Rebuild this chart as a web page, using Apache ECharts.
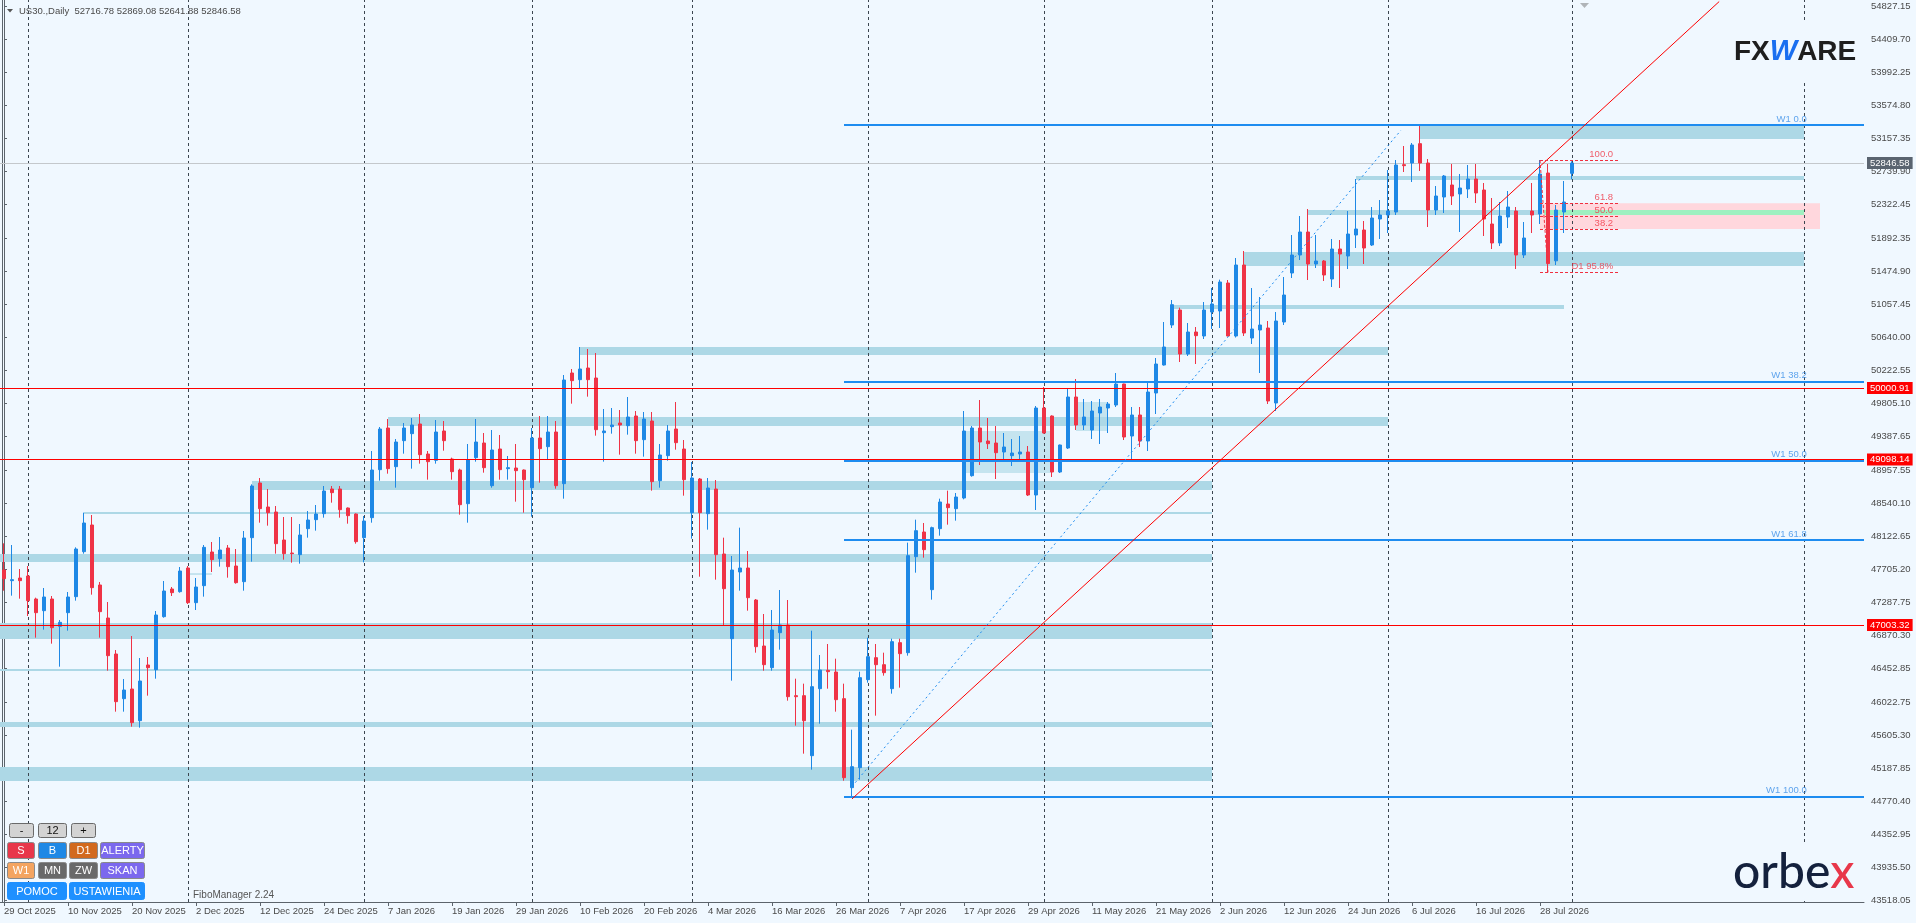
<!DOCTYPE html>
<html><head><meta charset="utf-8">
<script src="https://cdn.jsdelivr.net/npm/echarts@6/dist/echarts.min.js"></script>
<style>html,body{margin:0;padding:0;background:#f0f8ff;}#c{width:1916px;height:923px;}</style>
</head><body><div id="c"></div>
<script>
// ---------- DATA ----------
const symbolTitle = 'US30.,Daily';
const lastBar = [52716.78, 52869.08, 52641.88, 52846.58];
const opens = [47698.9,47564.0,47597.7,47623.0,47332.0,47184.4,47332.0,46986.3,47159.2,47361.6,47930.8,48268.1,47509.1,47091.7,46636.3,46071.2,46193.5,45792.9,46497.1,46438.1,47108.6,47458.5,47424.8,47724.2,47285.7,47500.7,47926.6,47842.3,47977.2,47749.5,47551.3,48107.9,48799.4,48495.8,48432.6,48078.4,47913.9,47892.9,48221.8,48335.6,48411.5,48723.5,48723.5,48483.2,48407.3,48107.9,48360.9,48968.1,49495.2,49006.1,49335.0,49423.5,49545.8,49166.3,49086.2,49457.2,49103.0,48963.9,48538.0,49119.9,49305.4,48765.7,49229.5,48980.8,48989.2,48963.9,48740.4,49368.7,49259.1,49444.6,48791.0,50190.9,50106.6,50254.2,50127.7,49436.2,49512.1,49558.4,49524.7,49647.0,49347.6,49583.7,48829.0,49145.2,49482.5,49229.5,48424.2,48850.0,48411.5,48723.5,47901.3,46830.2,47673.6,47724.2,47319.4,46737.5,46463.4,46906.1,47003.1,46109.2,46109.2,45350.2,46197.7,46429.7,46408.6,46071.2,44945.4,45198.4,46311.6,46589.9,46501.3,46197.7,46779.6,46653.1,47867.6,48179.6,47450.1,48221.8,48533.8,48474.8,48609.7,48892.2,49495.2,49330.7,49305.4,49191.6,49145.2,49166.3,49191.6,48647.6,49748.2,49647.0,48938.6,49242.2,49887.3,49533.1,49469.9,49684.9,49748.2,49786.1,50051.8,49394.0,49659.6,49330.7,49937.9,50292.1,50798.1,50987.9,50431.3,50709.6,50659.0,50962.6,50975.2,51329.4,50659.0,51557.1,50633.7,50734.9,50760.2,49811.4,50836.1,51455.9,51683.6,51974.6,51569.8,51607.7,51380.0,51759.5,51671.0,51936.6,51999.9,51810.1,52139.0,52189.6,52227.6,52826.4,52847.4,53092.0,52847.4,52252.9,52417.3,52569.1,52455.3,52518.5,52645.0,52505.9,52075.8,51835.4,52164.3,52240.2,51683.6,52240.2,52202.3,52720.9,51610.0,52227.6,52716.78];
const highs = [48036.2,48015.1,47711.5,47749.5,47348.9,47471.2,47370.0,47066.4,47420.6,47985.6,48424.2,48394.6,47547.1,47294.1,46686.9,46320.0,46864.0,46585.7,46598.3,47180.2,47559.7,47483.8,47736.8,47749.5,47597.7,48015.1,48053.1,48116.3,48015.1,47964.5,48192.2,48782.6,48862.7,48723.5,48508.5,48369.3,48369.3,48280.8,48445.2,48521.1,48761.5,48761.5,48761.5,48490.0,48415.0,48382.0,49204.2,49507.8,49609.0,49356.0,49558.4,49621.7,49672.3,49204.2,49596.4,49583.7,49119.9,48980.8,49292.8,49609.0,49431.9,49469.9,49406.6,49141.0,49292.8,48970.0,49495.2,49647.0,49647.0,49583.7,50165.6,50241.5,50519.8,50494.5,50443.9,49735.5,49748.2,49722.9,49887.3,49710.2,49697.6,49697.6,49292.8,49533.1,49824.1,49343.4,49065.1,48862.7,48862.7,48837.4,48107.9,47876.0,48234.4,47939.2,47332.0,47142.3,47192.9,47445.9,47319.4,46324.2,46261.0,46931.4,46623.6,46762.8,46577.2,46261.0,45679.1,46412.8,46842.9,46762.8,46653.1,46830.2,46830.2,48044.7,48335.6,48293.4,48247.1,48601.3,48702.5,48672.9,49710.2,49520.5,49849.4,49621.7,49520.5,49431.9,49356.0,49394.0,49267.5,49773.5,50013.8,49655.0,49285.0,49992.8,50115.0,49862.0,49836.7,49862.0,49824.1,50190.9,50055.0,49760.8,49760.8,50064.4,50380.7,50836.1,51114.4,51017.4,50823.4,50772.8,51089.1,51266.2,51371.6,51367.4,51645.7,51734.3,51266.2,51152.3,50848.7,50962.6,51405.3,51936.6,52177.0,52265.5,51936.6,51620.4,51886.0,51873.4,52240.2,52645.0,52113.7,52290.8,52379.4,52758.9,52885.4,53062.5,53100.4,53328.1,52898.0,52556.5,52695.6,52834.8,52708.3,52822.1,52834.8,52594.4,52404.7,52354.1,52493.2,52290.8,52101.1,52594.4,52885.4,52834.8,52316.1,52619.7,52869.08];
const lows = [47437.4,47374.2,47336.3,47117.0,46842.9,46944.1,46767.0,46476.0,46931.5,47311.0,47905.5,47386.9,46842.9,46425.5,45906.8,45906.8,45717.0,45704.4,46109.2,46324.2,47095.9,47370.0,47412.2,47268.8,47192.9,47361.6,47673.6,47741.1,47601.9,47526.0,47437.4,47804.3,48297.7,48259.7,47905.5,47829.6,47791.7,47779.0,48107.9,48196.5,48360.9,48550.6,48360.9,48285.0,48032.0,47795.9,48297.6,48829.0,48917.5,48740.4,49170.5,48980.8,49044.0,48841.6,49044.0,49208.5,48841.6,48398.8,48297.6,49069.3,48930.2,48740.4,48841.6,48841.6,48563.3,48424.1,48373.5,48803.7,49103.0,48727.7,48601.2,49803.0,50001.2,49891.6,49398.2,49069.3,49423.5,49157.9,49410.9,49170.5,49132.6,48702.5,48740.4,49082.0,49221.1,48639.2,48095.3,47614.5,48209.1,47576.6,46994.7,46298.9,47437.5,47184.4,46653.1,46425.4,46425.4,46691.1,46045.9,45729.7,45375.5,45173.1,45755.0,46197.7,45906.8,45033.9,44831.0,45046.6,46273.6,45856.2,46362.2,46134.5,46210.4,46615.2,47665.1,47854.9,47323.6,48133.2,48272.4,48323.0,48592.8,48879.5,49027.1,49229.5,48850.0,49103.0,49014.5,49103.0,48635.0,48457.9,49425.0,48875.3,48925.9,49229.5,49469.9,49469.9,49356.0,49292.8,49431.9,49760.8,49343.4,49090.4,49254.8,49204.2,49672.3,50285.0,50760.2,50330.1,50406.0,50304.8,50621.0,50747.5,50760.2,50655.0,50640.0,50659.0,50557.8,50190.9,49798.8,49710.2,50798.1,51392.7,51620.4,51367.4,51519.2,51354.7,51278.8,51266.2,51506.5,51772.2,51569.8,51797.5,51886.0,51961.9,52189.6,52733.6,52607.1,52746.2,52037.8,52189.6,52214.9,52316.1,51974.6,52404.7,52341.4,51924.0,51759.5,51797.5,52025.2,51506.5,51645.7,51961.9,52075.8,51466.0,51557.1,51961.9,52641.88];
const closes = [47589.3,47576.6,47564.0,47311.0,47159.2,47357.3,46969.4,47036.9,47357.3,47964.5,48293.4,47475.4,47171.8,46615.2,46033.3,46180.9,45767.6,46294.7,46463.4,47129.6,47433.2,47412.2,47686.2,47285.7,47483.8,47985.6,47829.6,47951.9,47741.1,47538.7,48103.7,48761.5,48474.8,48424.2,48032.0,47905.5,47905.5,48141.6,48331.4,48407.3,48698.2,48677.2,48462.1,48386.2,48057.3,48318.7,48963.9,49482.5,48980.8,49318.1,49495.2,49533.1,49157.9,49069.3,49444.6,49335.0,48942.8,48525.3,49094.6,49318.1,48993.4,49216.9,48968.1,48993.4,48955.5,48841.6,49368.7,49233.8,49444.6,48765.7,50102.4,50094.0,50241.5,50106.6,49474.1,49457.2,49533.1,49533.1,49634.3,49335.0,49609.0,48816.3,49153.6,49457.2,49309.7,48841.6,48862.7,48424.2,48736.2,47892.9,47462.7,47698.9,47724.2,47348.9,46729.0,46501.3,46939.9,47003.1,46096.5,46096.5,45792.9,46223.0,46433.9,46412.8,46058.6,45071.9,45211.0,46336.9,46602.5,46501.3,46400.1,46792.3,46640.5,47880.2,48196.4,47956.1,48234.4,48559.1,48487.4,48622.3,49457.2,49495.2,49318.1,49297.0,49183.1,49254.8,49178.9,49191.6,48647.6,49748.2,49431.9,48938.6,49280.1,49887.3,49533.1,49634.3,49710.2,49760.8,49798.8,50051.8,49381.3,49659.6,49330.7,49950.6,50304.8,50519.8,51055.4,50431.3,50709.6,50663.2,50987.9,51063.8,51342.1,50659.0,51557.1,50696.9,50747.5,50798.1,49836.7,50848.7,51177.6,51683.6,51974.6,51569.8,51607.7,51430.6,51759.5,51696.3,51949.3,52012.5,51772.2,52151.7,52189.6,52240.2,52822.1,52813.7,53075.1,52847.4,52252.9,52430.0,52683.0,52430.0,52531.2,52645.0,52467.9,52139.0,51835.4,52177.0,52290.8,51683.6,51898.7,52189.6,52708.3,51575.0,52252.9,52354.1,52846.58];

const yTicks = [54827.15,54409.70,53992.25,53574.80,53157.35,52739.90,52322.45,51892.35,51474.90,51057.45,50640.00,50222.55,49805.10,49387.65,48957.55,48540.10,48122.65,47705.20,47287.75,46870.30,46452.85,46022.75,45605.30,45187.85,44770.40,44352.95,43935.50,43518.05];
const redLevels = [50000.91, 49098.14, 47003.32];
const lastClose = 52846.58;
// support / resistance zones: [startBar, endBar, low, high]
const zones = [[177,225,53151,53320],[169,225,52632,52683],[163,225,52190,52253],[155,225,51545,51722],[146,195,51000,51051],[72,173,50419,50520],[48,173,49520,49634],[31,151,48711,48825],[10,151,48407,48433],[23,26,47640,47656],[-0.5,151,47800,47901],[-0.5,151,46826,47028],[-0.5,151,46421,46447],[-0.5,151,45713,45776],[-0.5,151,45030,45207]];
const boxes = [[120,131,48926,49457],[134,138,49457,49824]];
const pinkZone = [192,227,52012.5,52337.7];
const greenZone = [192.5,225,52190,52253];
// weekly fibo
const w1Names = ['W1 0.0','W1 38.2','W1 50.0','W1 61.8','W1 100.0'];
const w1Prices = [53328,50082,49080,48078,44831];
const w1Start = 105, w1LabelBar = 225.4;
// daily fibo
const d1Names = ['100.0','61.8','50.0','38.2','D1 95.8%'];
const d1Prices = [52885,52337.7,52177,52012.5,51465];
const d1Start = 192, d1End = 201.75, d1LabelBar = 201.2;
// trend lines [[bar, price],[bar, price]]
const redTrend = [[106,44803],[214.4,54890]];
const blueTrend = [[106,44960],[174.6,53260]];
const monthSeps = [3,23,45,66,86,108,130,151,173,196,225];

// categories: trading days (future bars continue for right margin)
const MONTHS=['Jan','Feb','Mar','Apr','May','Jun','Jul','Aug','Sep','Oct','Nov','Dec'];
const holidays=['2025-12-25','2026-01-01'];
const categories=[];
let dt=new Date(Date.UTC(2025,9,29));
while(categories.length<233){
  const wd=dt.getUTCDay(); const iso=dt.toISOString().slice(0,10);
  if(wd!==0&&wd!==6&&!holidays.includes(iso)) categories.push(dt.getUTCDate()+' '+MONTHS[dt.getUTCMonth()]+' '+dt.getUTCFullYear());
  dt=new Date(dt.getTime()+86400000);
}
const NBARS = opens.length;

// ---------- STYLE ----------
const FONT='"Liberation Sans", Arial, sans-serif';
const BG='#f0f8ff', AXIS='#5c646c', TXT='#4a4a4a';
const BULL='#1e88e5', BEAR='#ef3346', ZONE='#add8e6', LBLUE='#1e8cf0';
const Y_MIN=43499.1, Y_MAX=54909.4;

const candleData = opens.map((o,i)=>[o, closes[i], lows[i], highs[i]]);
const rect = (z,color)=>[{coord:[z[0],z[2]],itemStyle:{color:color}},{coord:[z[1],z[3]]}];
const tickShow = (i)=> i%8===0 && i<NBARS;

const priceLabel = (v,bg)=>({show:true,position:'end',formatter:v.toFixed(2),backgroundColor:bg,color:'#fff',padding:[1,3,1,3],distance:3,fontFamily:FONT,fontSize:9.5});

const option = {
  animation:false,
  backgroundColor:BG,
  grid:{left:0,right:52,top:0,bottom:21,outerBoundsMode:'none'},
  xAxis:[
    {type:'category',data:categories,boundaryGap:true,
     axisLine:{lineStyle:{color:AXIS}},
     axisTick:{show:true,alignWithLabel:true,interval:tickShow,length:4,lineStyle:{color:AXIS}},
     axisLabel:{interval:tickShow,formatter:(v,i)=> i<NBARS? v:'',align:'left',margin:4,color:TXT,fontFamily:FONT,fontSize:9.5},
     splitLine:{show:false}},
    {type:'value',min:-0.5,max:232.5,show:false}
  ],
  yAxis:[
    {type:'value',position:'right',min:Y_MIN,max:Y_MAX,offset:2,
     axisLine:{show:true,lineStyle:{color:AXIS}},
     axisTick:{show:true,length:3,customValues:yTicks,lineStyle:{color:AXIS}},
     axisLabel:{customValues:yTicks,formatter:v=>v.toFixed(2),margin:5,color:TXT,fontFamily:FONT,fontSize:9.5},
     splitLine:{show:false}},
    {type:'value',position:'left',min:Y_MIN,max:Y_MAX,offset:-2.5,
     axisLine:{show:true,lineStyle:{color:AXIS}},axisTick:{show:false},axisLabel:{show:false},splitLine:{show:false}}
  ],
  series:[
    {type:'scatter',xAxisIndex:1,yAxisIndex:0,data:[],silent:true,
     markArea:{silent:true,z:1,data:[
       ...zones.map(z=>rect(z,ZONE)),
       ...boxes.map(z=>rect(z,'rgba(173,216,230,0.65)')),
       rect(pinkZone,'#ffd7dd'),
       rect(greenZone,'#9ef0c0')
     ]}},
    {type:'scatter',xAxisIndex:1,yAxisIndex:0,data:[],silent:true,
     markLine:{silent:true,z:2,symbol:['none','none'],label:{show:false},
       lineStyle:{type:[3,3],color:'#3c4650',width:1},
       data:monthSeps.map(v=>({xAxis:v}))}},
    {type:'candlestick',xAxisIndex:0,yAxisIndex:0,data:candleData,barWidth:4,z:3,silent:true,
     itemStyle:{color:BULL,color0:BEAR,borderColor:BULL,borderColor0:BEAR,borderWidth:1}},
    {type:'scatter',xAxisIndex:1,yAxisIndex:0,data:[],silent:true,
     markLine:{silent:true,z:2,symbol:['none','none'],
       data:[{yAxis:lastClose,lineStyle:{color:'#c4c8cc',width:1,type:'solid'},label:priceLabel(lastClose,'#5a6470')}]}},
    {type:'scatter',xAxisIndex:1,yAxisIndex:0,data:[],silent:true,
     markLine:{silent:true,z:5,symbol:['none','none'],
       data:[
         ...w1Prices.map(p=>[{coord:[w1Start,p],lineStyle:{color:LBLUE,width:2,type:'solid'},label:{show:false}},{coord:[232.5,p]}]),
         ...redLevels.map(v=>({yAxis:v,lineStyle:{color:'#ff0000',width:1,type:'solid'},label:priceLabel(v,'#ff0000')})),
         [{coord:redTrend[0],lineStyle:{color:'#ff0000',width:1,type:'solid'},label:{show:false}},{coord:redTrend[1]}],
         [{coord:blueTrend[0],lineStyle:{color:LBLUE,width:1,type:[2,3]},label:{show:false}},{coord:blueTrend[1]}],
         ...d1Prices.map(p=>[{coord:[d1Start,p],lineStyle:{color:'#f03040',width:1,type:[3,2]},label:{show:false}},{coord:[d1End,p]}]),
         [{coord:[d1Start,d1Prices[0]],lineStyle:{color:'#f03040',width:1,type:[3,2]},label:{show:false}},{coord:[d1Start+1,d1Prices[4]]}]
       ]}},
    {type:'scatter',xAxisIndex:1,yAxisIndex:0,silent:true,symbolSize:1,z:6,
     itemStyle:{color:'rgba(0,0,0,0)'},
     label:{show:true,position:'left',distance:0,offset:[0,-6],formatter:'{b}',color:'#3a8ee8',fontFamily:FONT,fontSize:9.5},
     data:w1Names.map((n,i)=>({name:n,value:[w1LabelBar,w1Prices[i]]}))},
    {type:'scatter',xAxisIndex:1,yAxisIndex:0,silent:true,symbolSize:1,z:6,
     itemStyle:{color:'rgba(0,0,0,0)'},
     label:{show:true,position:'left',distance:0,offset:[0,-6],formatter:'{b}',color:'#f03444',fontFamily:FONT,fontSize:9.5},
     data:d1Names.map((n,i)=>({name:n,value:[d1LabelBar,d1Prices[i]]}))}
  ],
  graphic:[]
};

// ---------- decorations ----------
const g = option.graphic;
g.push({type:'polygon',shape:{points:[[7,9],[13,9],[10,12.5]]},style:{fill:'#555'},z:100});
g.push({type:'text',x:19,y:11,style:{text:symbolTitle+'  '+lastBar.map(v=>v.toFixed(2)).join(' '),font:'9.5px '+FONT,fill:TXT,align:'left',verticalAlign:'middle',textAlign:'left',textVerticalAlign:'middle'},z:100});
g.push({type:'polygon',shape:{points:[[1580,3],[1589,3],[1584.5,8]]},style:{fill:'#b0b4b8'},z:100});
g.push({type:'text',x:193,y:895,style:{text:'FiboManager 2.24',font:'10px '+FONT,fill:'#555',align:'left',verticalAlign:'middle',textAlign:'left',textVerticalAlign:'middle'},z:100});
const buttons = [
 ['-',9,823,24,14,'#d3d3d3','#111','#6a6a6a'],
 ['12',38,823,28,14,'#d3d3d3','#111','#6a6a6a'],
 ['+',71,823,24,14,'#d3d3d3','#111','#6a6a6a'],
 ['S',7,842,27,16,'#e8374a','#fff','#8a8a8a'],
 ['B',38,842,28,16,'#1e88e5','#fff','#8a8a8a'],
 ['D1',69,842,28,16,'#d2691e','#fff','#8a8a8a'],
 ['ALERTY',100,842,44,16,'#7b68ee','#fff','#8a8a8a'],
 ['W1',7,862,27,16,'#f4a460','#fff','#8a8a8a'],
 ['MN',38,862,28,16,'#696969','#fff','#8a8a8a'],
 ['ZW',69,862,28,16,'#696969','#fff','#8a8a8a'],
 ['SKAN',100,862,44,16,'#7b68ee','#fff','#8a8a8a'],
 ['POMOC',7,882,59,17,'#1e90ff','#fff',null],
 ['USTAWIENIA',69,882,75,17,'#1e90ff','#fff',null]
];
buttons.forEach(b=>{
  g.push({type:'rect',shape:{x:b[1]+0.5,y:b[2]+0.5,width:b[3],height:b[4],r:2},style:{fill:b[5],stroke:b[7]||b[5],lineWidth:1},z:100});
  g.push({type:'text',x:b[1]+b[3]/2+0.5,y:b[2]+b[4]/2+1,style:{text:b[0],font:'11px '+FONT,fill:b[6],align:'center',verticalAlign:'middle',textAlign:'center',textVerticalAlign:'middle'},z:101});
});
// logos
g.push({type:'rect',shape:{x:1722,y:23,width:140,height:57},style:{fill:BG},z:100});
g.push({type:'text',x:1734,y:52,style:{text:'{a|FX}{b|W}{a|ARE}',align:'left',verticalAlign:'middle',textAlign:'left',textVerticalAlign:'middle',
  rich:{a:{font:'bold 28px '+FONT,fill:'#1e1e1e'},b:{font:'italic bold 29px '+FONT,fill:'#1a6ff0'}}},z:101});
g.push({type:'rect',shape:{x:1722,y:845,width:140,height:56},style:{fill:BG},z:100});
g.push({type:'text',x:1733,y:873,style:{text:'{a|orbe}{b|x}',align:'left',verticalAlign:'middle',textAlign:'left',textVerticalAlign:'middle',
  rich:{a:{font:'500 48px Lato, '+FONT,fill:'#14213d'},b:{font:'500 48px Lato, '+FONT,fill:'#e8374a'}}},z:101});

const chart = echarts.init(document.getElementById('c'));
chart.setOption(option);
</script></body></html>
